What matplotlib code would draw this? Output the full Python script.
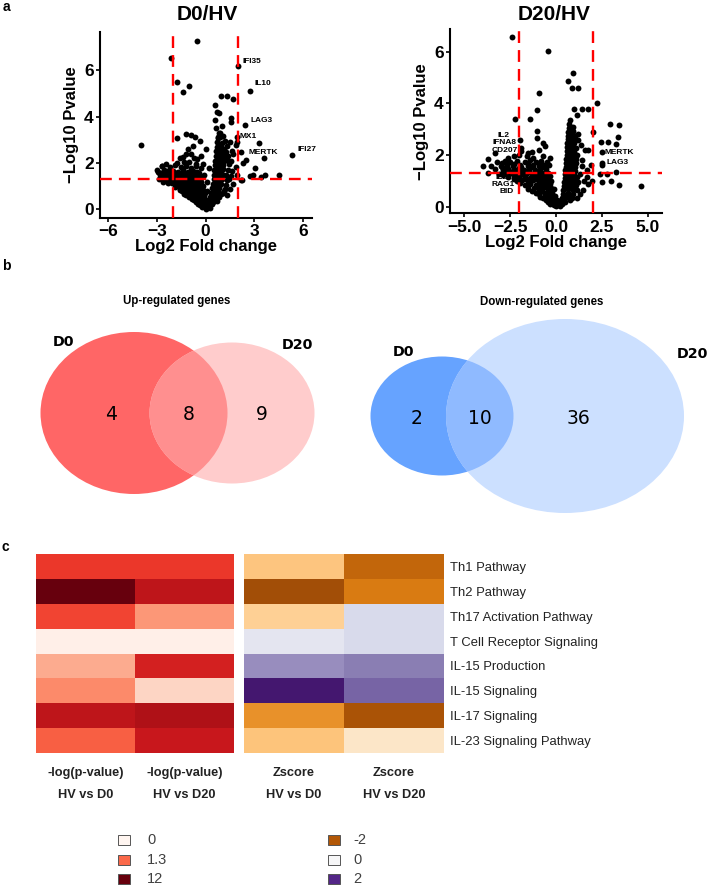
import numpy as np
import matplotlib
matplotlib.use("Agg")
import matplotlib.pyplot as plt
from matplotlib.patches import Ellipse, Rectangle
from matplotlib.colors import TwoSlopeNorm, Normalize

plt.rcParams["font.family"] = ["Liberation Sans", "DejaVu Sans"]

# ---------------------------------------------------------------- data
# Volcano D0/HV : (log2 fold change, -log10 p)
d0_points = np.array([
    (-0.54, 7.27), (-2.12, 6.50), (1.98, 6.19), (-1.78, 5.47), (-1.02, 5.33), (-1.40, 5.07), (2.74, 5.11),
    (0.93, 4.88), (1.35, 4.88), (1.68, 4.77), (0.59, 4.48), (0.69, 4.21), (0.86, 4.14), (0.59, 3.85),
    (1.56, 3.92), (1.58, 3.78), (2.43, 3.63), (0.63, 3.52), (1.00, 3.59), (-3.99, 2.77), (-1.78, 3.09),
    (-1.20, 3.24), (-0.90, 3.21), (-0.65, 3.13), (-0.34, 2.94), (1.96, 3.10), (1.96, 2.90), (1.90, 2.77),
    (3.31, 2.88), (2.16, 2.48), (5.30, 2.34), (3.60, 2.20), (2.47, 2.12), (3.06, 1.77), (2.33, 2.00),
    (2.94, 1.50), (2.74, 1.44), (3.68, 1.50), (4.52, 1.50), (3.39, 1.41), (2.27, 1.28), (2.17, 1.26),
    (1.92, 1.50), (1.86, 1.82), (1.45, 1.97), (1.55, 1.43), (1.14, 0.78),
    (-3.00, 1.69), (-2.69, 1.88), (-2.39, 1.67), (-2.43, 1.41), (-1.76, 2.00), (-1.38, 2.26), (-1.21, 2.37),
    (-0.90, 2.40), (-1.06, 2.60), (-0.75, 2.75), (-0.59, 1.97), (-0.54, 2.19), (-2.28, 1.15),
    (0.89, 3.29), (1.10, 3.14), (0.79, 3.07),
    (-2.70, 1.88), (-2.20, 1.83), (-1.90, 1.90), (-1.50, 1.82), (-1.20, 1.87), (-0.90, 1.80), (-0.60, 1.86), (-0.30, 1.79),
    (-2.90, 1.62), (-2.55, 1.68), (-2.25, 1.60), (-2.00, 1.66), (-1.70, 1.63), (-1.40, 1.70), (-1.10, 1.61), (-0.80, 1.67), (-0.50, 1.62),
    (-2.80, 1.47), (-2.60, 1.40), (-2.35, 1.49), (-2.10, 1.43), (-1.85, 1.46), (-1.60, 1.41), (-1.35, 1.48), (-1.10, 1.44),
    (-0.85, 1.47), (-0.60, 1.42), (-0.35, 1.46), (-2.85, 1.30), (-2.60, 1.20),
    (-2.55, 1.27), (-2.20, 1.32), (-1.95, 1.28), (-1.70, 1.33), (-1.45, 1.26), (-1.20, 1.31), (-0.95, 1.29), (-0.70, 1.33), (-0.45, 1.27),
    (-2.05, 1.13), (-1.75, 1.17), (-1.50, 1.12), (-1.25, 1.16), (-1.00, 1.13), (-0.75, 1.18), (-0.50, 1.12), (-0.30, 1.16),
    (-1.90, 0.98), (-1.65, 1.02), (-1.40, 0.97), (-1.15, 1.01), (-0.90, 0.99), (-0.65, 1.03), (-0.40, 0.97),
    (-1.60, 0.83), (-1.35, 0.87), (-1.10, 0.84), (-0.85, 0.86), (-0.60, 0.82), (-0.35, 0.87), (-0.15, 0.83),
    (-1.30, 0.68), (-1.05, 0.72), (-0.80, 0.69), (-0.55, 0.71), (-0.30, 0.67),
    (-1.00, 0.53), (-0.75, 0.56), (-0.50, 0.54), (-0.30, 0.52), (-0.10, 0.56),
    (-0.70, 0.39), (-0.50, 0.42), (-0.30, 0.38), (-0.15, 0.41),
    (-0.45, 0.24), (-0.25, 0.27), (-0.05, 0.23), (0.15, 0.26),
    (-0.20, 0.11), (0.00, 0.08), (0.20, 0.12), (0.05, 0.02),
    (-2.75, 1.55), (-2.45, 1.57), (-2.15, 1.53), (-1.80, 1.56), (-1.55, 1.54), (-1.25, 1.57), (-0.95, 1.55),
    (-0.65, 1.53), (-0.40, 1.58), (-2.40, 1.37), (-2.05, 1.22), (-1.80, 1.38), (-1.55, 1.21), (-1.30, 1.38),
    (-1.05, 1.21), (-0.80, 1.38), (-0.55, 1.21), (-0.25, 1.35), (-1.80, 1.07), (-1.55, 0.90), (-1.25, 0.92),
    (-1.00, 0.77), (-0.75, 0.92), (-0.50, 0.77), (-0.25, 0.95), (-0.05, 0.70), (-1.45, 0.78), (-1.20, 0.60),
    (-0.90, 0.62), (-0.65, 0.47), (-0.40, 0.62), (-0.20, 0.47), (0.00, 0.40), (-0.85, 0.45), (-0.60, 0.30),
    (-0.35, 0.18), (-0.10, 0.30), (0.10, 0.18), (0.25, 0.05), (-0.05, 0.13),
    (0.30, 0.19), (0.25, 0.36), (0.45, 0.33), (0.70, 0.37), (0.30, 0.52), (0.55, 0.48), (0.85, 0.53),
    (0.35, 0.70), (0.60, 0.72), (0.95, 0.68), (0.40, 0.91), (0.65, 0.88), (0.85, 0.93), (1.20, 0.89),
    (0.45, 1.10), (0.70, 1.13), (0.95, 1.08), (0.50, 1.30), (0.75, 1.28), (1.00, 1.33), (1.30, 1.27),
    (0.50, 1.50), (0.80, 1.52), (1.05, 1.48), (0.55, 1.70), (0.80, 1.68), (1.10, 1.72), (1.40, 1.69),
    (0.60, 1.90), (0.85, 1.88), (1.10, 1.93), (0.60, 2.10), (0.85, 2.12), (1.15, 2.08), (1.35, 2.13),
    (0.65, 2.30), (0.90, 2.28), (1.20, 2.33), (0.65, 2.50), (0.90, 2.52), (1.25, 2.48), (1.60, 2.53),
    (0.70, 2.70), (0.95, 2.68), (1.30, 2.72), (0.70, 2.90), (1.00, 2.88), (1.50, 2.92), (0.75, 3.10), (0.80, 3.30),
    (0.40, 0.25), (0.55, 0.60), (0.75, 0.60), (0.50, 0.80), (0.75, 0.78), (0.60, 1.00), (0.85, 1.00),
    (0.60, 1.20), (0.85, 1.20), (0.65, 1.40), (0.95, 1.40), (0.65, 1.60), (0.95, 1.60), (0.70, 1.80),
    (0.95, 1.80), (0.70, 2.00), (1.00, 2.00), (0.75, 2.20), (1.05, 2.20), (0.75, 2.40), (1.05, 2.40),
    (0.80, 2.60), (0.80, 2.80), (1.15, 2.60), (1.20, 2.95), (0.90, 3.10), (1.40, 2.30), (1.55, 2.10),
    (1.70, 2.40), (1.25, 1.50), (1.45, 1.30), (1.60, 1.65), (1.05, 0.70), (1.25, 1.05),
    (-1.00, 2.05), (-0.70, 2.20), (-0.30, 2.30), (-1.30, 2.05), (-2.45, 1.95), (-0.10, 1.50), (0.10, 1.20),
    (-0.15, 1.00), (0.10, 0.80), (0.20, 1.80), (1.30, 0.60), (1.50, 0.90), (1.70, 1.10), (-1.60, 2.20),
    (-0.15, 1.95), (0.05, 2.60),
])
d0_genes = ["IFI35", "IL10", "LAG3", "MX1", "MERTK", "IFI27"]
d0_gene_x = [2.27, 3.00, 2.74, 2.08, 2.64, 5.67]
d0_gene_y = [6.39, 5.43, 3.82, 3.13, 2.44, 2.56]

# Volcano D20/HV
d20_points = np.array([
    (-2.42, 6.58), (-0.45, 6.03), (0.95, 5.19), (0.67, 4.88), (0.85, 4.58), (1.18, 4.58), (2.22, 4.00),
    (-0.93, 4.39), (-1.02, 3.74), (-1.42, 3.38), (-2.24, 3.40), (1.00, 3.80), (1.40, 3.78), (1.76, 3.78),
    (1.13, 3.55), (2.95, 3.20), (3.44, 3.16), (3.40, 2.68), (2.04, 2.90), (2.45, 2.52), (2.85, 2.49),
    (3.25, 2.43), (2.49, 2.13), (2.49, 1.70), (2.49, 1.60), (3.27, 1.35), (2.40, 1.26), (2.76, 1.26),
    (2.49, 0.97), (3.00, 1.00), (3.44, 0.84), (4.62, 0.81), (1.76, 2.19), (-1.02, 2.94), (-1.05, 2.65),
    (-0.73, 2.48), (-1.96, 2.58), (-1.91, 2.28), (-1.91, 2.15), (-3.33, 2.06), (-3.73, 1.83), (-3.96, 1.57),
    (-3.55, 1.59), (-3.69, 1.32), (-3.20, 1.74), (-2.96, 1.52), (-2.87, 1.35), (-1.51, 2.06), (1.67, 1.14),
    (1.76, 0.88), (1.95, 1.00), (1.13, 0.32), (1.49, 0.65),
    (-2.80, 1.77), (-2.50, 1.73), (-2.10, 1.78), (-1.70, 1.74), (-1.40, 1.79), (-1.10, 1.72), (-0.80, 1.77), (-0.50, 1.73),
    (-3.00, 1.58), (-2.65, 1.62), (-2.35, 1.57), (-1.95, 1.63), (-1.55, 1.59), (-1.25, 1.61), (-0.95, 1.58), (-0.65, 1.62),
    (-3.30, 1.46), (-2.90, 1.43), (-2.60, 1.47), (-2.30, 1.44), (-2.00, 1.48), (-1.75, 1.42), (-1.45, 1.46),
    (-1.15, 1.43), (-0.85, 1.47), (-0.55, 1.44),
    (-3.10, 1.28), (-2.75, 1.32), (-2.45, 1.29), (-2.15, 1.33), (-1.85, 1.27), (-1.60, 1.31), (-1.30, 1.28),
    (-1.00, 1.32), (-0.70, 1.29), (-0.45, 1.31),
    (-2.60, 1.14), (-2.30, 1.17), (-2.00, 1.13), (-1.70, 1.16), (-1.40, 1.12), (-1.10, 1.17), (-0.80, 1.14), (-0.50, 1.16),
    (-2.10, 0.98), (-1.85, 1.02), (-1.55, 0.99), (-1.25, 1.03), (-0.95, 0.98), (-0.65, 1.01), (-0.40, 0.99),
    (-1.70, 0.84), (-1.40, 0.87), (-1.10, 0.83), (-0.80, 0.86), (-0.55, 0.84), (-0.30, 0.87),
    (-1.50, 0.69), (-1.20, 0.72), (-0.95, 0.68), (-0.70, 0.71), (-0.45, 0.69), (-0.25, 0.72),
    (-1.10, 0.54), (-0.85, 0.57), (-0.60, 0.53), (-0.40, 0.56), (-0.20, 0.54),
    (-0.85, 0.39), (-0.60, 0.42), (-0.40, 0.38), (-0.20, 0.41),
    (-0.55, 0.24), (-0.35, 0.27), (-0.15, 0.23), (0.05, 0.26),
    (-0.30, 0.11), (-0.10, 0.08), (0.10, 0.12), (0.00, 0.02), (0.20, 0.04),
    (-2.95, 1.70), (-2.65, 1.52), (-2.30, 1.66), (-1.90, 1.53), (-1.55, 1.70), (-1.25, 1.52), (-0.95, 1.68),
    (-0.70, 1.52), (-0.40, 1.60), (-2.90, 1.22), (-2.55, 1.38), (-2.20, 1.22), (-1.95, 1.38), (-1.70, 1.22),
    (-1.45, 1.37), (-1.20, 1.22), (-0.90, 1.38), (-0.60, 1.22), (-0.30, 1.20), (-2.30, 1.05), (-1.95, 0.90),
    (-1.65, 1.06), (-1.40, 0.93), (-1.10, 1.06), (-0.80, 0.93), (-0.55, 1.06), (-0.25, 1.00), (-1.55, 0.78),
    (-1.30, 0.62), (-1.05, 0.76), (-0.80, 0.62), (-0.60, 0.78), (-0.35, 0.62), (-0.10, 0.70), (-0.95, 0.47),
    (-0.70, 0.33), (-0.50, 0.47), (-0.30, 0.32), (-0.05, 0.40), (-0.45, 0.16), (-0.20, 0.17), (0.15, 0.22),
    (-2.00, 2.00), (-1.60, 1.95), (-1.30, 2.10), (-0.90, 2.20), (-0.70, 1.95), (-0.35, 1.90), (-0.60, 2.35),
    (-1.25, 1.90), (-2.30, 1.95), (-2.60, 1.90),
    (0.30, 0.20), (0.50, 0.18), (0.35, 0.35), (0.60, 0.37), (0.85, 0.33), (0.40, 0.50), (0.65, 0.52), (0.90, 0.48),
    (0.40, 0.65), (0.65, 0.67), (0.90, 0.63), (1.15, 0.66), (0.45, 0.80), (0.70, 0.82), (0.95, 0.78),
    (0.45, 0.95), (0.70, 0.97), (0.95, 0.93), (1.20, 0.96), (0.50, 1.10), (0.75, 1.12), (1.00, 1.08),
    (0.50, 1.25), (0.75, 1.27), (1.00, 1.23), (1.30, 1.26), (0.50, 1.40), (0.75, 1.42), (1.05, 1.38),
    (0.55, 1.55), (0.80, 1.57), (1.05, 1.53), (1.40, 1.56), (0.55, 1.70), (0.80, 1.72), (1.10, 1.68),
    (0.55, 1.85), (0.80, 1.87), (1.10, 1.83), (0.60, 2.00), (0.85, 2.02), (1.15, 1.98),
    (0.60, 2.15), (0.85, 2.17), (0.60, 2.30), (0.85, 2.32), (1.10, 2.28), (0.60, 2.45), (0.85, 2.47),
    (0.65, 2.60), (0.90, 2.62), (1.20, 2.58), (0.65, 2.75), (0.90, 2.77), (0.65, 2.90), (0.90, 2.92),
    (0.70, 3.05), (0.95, 3.07), (0.70, 3.20), (0.75, 3.35),
    (0.35, 0.10), (0.45, 0.27), (0.75, 0.27), (0.55, 0.44), (0.80, 0.44), (0.55, 0.73), (0.80, 0.73),
    (1.05, 0.72), (0.60, 0.88), (0.85, 0.88), (1.10, 0.85), (0.60, 1.03), (0.90, 1.03), (0.60, 1.18),
    (0.90, 1.18), (1.15, 1.15), (0.65, 1.33), (0.90, 1.33), (0.65, 1.48), (0.90, 1.48), (0.65, 1.63),
    (0.95, 1.63), (0.70, 1.78), (0.95, 1.78), (0.70, 1.93), (1.00, 1.93), (0.72, 2.08), (1.00, 2.10),
    (0.72, 2.23), (0.75, 2.38), (0.75, 2.53), (1.00, 2.45), (0.78, 2.68), (0.80, 2.83), (0.82, 2.98), (1.05, 2.72),
    (1.40, 1.80), (1.60, 2.20), (1.50, 1.00), (1.30, 0.50), (1.70, 1.40), (1.90, 1.60), (1.20, 2.80), (1.35, 2.40),
])
d20_genes_down = ["IL2", "IFNA8", "CD207", "IL21", "RAG1", "BID"]
d20_down_x = [-2.85, -2.80, -2.78, -2.82, -2.90, -2.67]
d20_down_y = [2.77, 2.48, 2.19, 1.14, 0.86, 0.58]
d20_genes_up = ["MERTK", "LAG3"]
d20_up_x = [2.67, 2.76]
d20_up_y = [2.09, 1.70]

# Venn counts: [only D0, shared, only D20]
up_counts = [4, 8, 9]
down_counts = [2, 10, 36]

# Canonical pathways heatmap
pathways = ["Th1 Pathway", "Th2 Pathway", "Th17 Activation Pathway", "T Cell Receptor Signaling",
            "IL-15 Production", "IL-15 Signaling", "IL-17 Signaling", "IL-23 Signaling Pathway"]
logp_d0 = [4.3, 12.0, 3.4, 0.1, 0.78, 1.04, 7.5, 1.94]
logp_d20 = [4.3, 7.5, 0.94, 0.1, 6.0, 0.42, 8.6, 6.9]
z_d0 = [-0.83, -2.15, -0.70, 0.30, 1.25, 2.20, -1.35, -0.85]
z_d20 = [-1.83, -1.57, 0.50, 0.50, 1.40, 1.59, -2.08, -0.36]
logp_cols = ["-log(p-value)\nHV vs D0", "-log(p-value)\nHV vs D20"]
z_cols = ["Zscore\nHV vs D0", "Zscore\nHV vs D20"]
logp_legend = [0, 1.3, 12]
z_legend = [-2, 0, 2]

# ---------------------------------------------------------------- figure
W, H = 709, 886
fig = plt.figure(figsize=(W / 100, H / 100), dpi=100)


def fx(px):
    return px / W


def fy(py):
    return 1 - py / H


def volcano(rect, pts, xlim, ylim, xticks, xticklabels, title, title_xy, ylab_x, xlab_y):
    ax = fig.add_axes(rect)
    ax.scatter(pts[:, 0], pts[:, 1], s=18, c="black", linewidths=0, zorder=2)
    dash = dict(color="#FF0000", lw=1.7, ls=(0, (5, 3)), zorder=3)
    ax.axhline(-np.log10(0.05), **dash)
    ax.axvline(-2, **dash)
    ax.axvline(2, **dash)
    ax.set_xlim(*xlim)
    ax.set_ylim(*ylim)
    ax.set_xticks(xticks)
    ax.set_xticklabels(xticklabels)
    ax.set_yticks([0, 2, 4, 6])
    for s in ("top", "right"):
        ax.spines[s].set_visible(False)
    for s in ("left", "bottom"):
        ax.spines[s].set_linewidth(1.5)
    ax.tick_params(length=3, width=1.2, labelsize=12.5, pad=1.5)
    for lab in ax.get_xticklabels() + ax.get_yticklabels():
        lab.set_fontweight("bold")
    ax.set_xlabel("Log2 Fold change", fontsize=12, fontweight="bold")
    ax.xaxis.set_label_coords(0.5, xlab_y)
    ax.set_ylabel("\u2212Log10 Pvalue", fontsize=12, fontweight="bold")
    ax.yaxis.set_label_coords(ylab_x, 0.5)
    fig.text(fx(title_xy[0]), fy(title_xy[1]), title, fontsize=15, fontweight="bold",
             ha="center", va="center")
    return ax


ax1 = volcano([fx(100), fy(218), 212 / W, 186 / H], d0_points, (-6.49, 6.55), (-0.37, 7.64),
              [-6, -3, 0, 3, 6], ["\u22126", "\u22123", "0", "3", "6"], "D0/HV", (207, 15), -0.10, -0.115)
for g, x, y in zip(d0_genes, d0_gene_x, d0_gene_y):
    ax1.text(x, y, g, fontsize=6, fontweight="bold", ha="left", va="center", zorder=4)

ax2 = volcano([fx(450), fy(213.3), 212 / W, 184 / H], d20_points, (-5.78, 5.78), (-0.26, 6.87),
              [-5, -2.5, 0, 2.5, 5], ["\u22125.0", "\u22122.5", "0.0", "2.5", "5.0"], "D20/HV", (554, 14),
              -0.10, -0.12)
for g, x, y in zip(d20_genes_down, d20_down_x, d20_down_y):
    ax2.text(x, y, g, fontsize=6, fontweight="bold", ha="center", va="center", zorder=4)
for g, x, y in zip(d20_genes_up, d20_up_x, d20_up_y):
    ax2.text(x, y, g, fontsize=6, fontweight="bold", ha="left", va="center", zorder=4)

# panel letters
for letter, (px, py) in zip("abc", [(6, 7), (6, 266), (5, 547)]):
    fig.text(fx(px), fy(py), letter, fontsize=10, fontweight="bold", ha="center", va="center")

# ---------------------------------------------------------------- venn diagrams
axv = fig.add_axes([0, 0, 1, 1], zorder=-1)
axv.set_xlim(0, W)
axv.set_ylim(H, 0)
axv.axis("off")


def venn(c1, s1, col1, c2, s2, col2, col12, counts, text_xy, lab1_xy, lab2_xy, title, title_xy):
    e1 = Ellipse(c1, s1[0], s1[1], color=col1, lw=0)
    e2 = Ellipse(c2, s2[0], s2[1], color=col2, lw=0)
    axv.add_patch(e1)
    axv.add_patch(e2)
    e3 = Ellipse(c2, s2[0], s2[1], color=col12, lw=0)
    axv.add_patch(e3)
    e3.set_clip_path(e1)
    for n, (tx, ty) in zip(counts, text_xy):
        axv.text(tx, ty, str(n), fontsize=13.5, family="DejaVu Sans", ha="center", va="center")
    axv.text(*lab1_xy, "D0", fontsize=10.3, fontweight="bold", family="DejaVu Sans", ha="center", va="center")
    axv.text(*lab2_xy, "D20", fontsize=10.3, fontweight="bold", family="DejaVu Sans", ha="center", va="center")
    axv.text(*title_xy, title, fontsize=8.3, fontweight="bold", ha="center", va="center")


venn((134, 413), (187, 162), "#FF6666", (232, 413), (165, 141), "#FFCCCC", "#FF8F8F", up_counts,
     [(111, 414), (189, 414), (262, 414)], (63, 342), (297, 345), "Up-regulated genes", (177, 301))
venn((442, 416), (143, 119), "#66A3FF", (565, 416), (238, 194), "#CCE0FF", "#8FBAFF", down_counts,
     [(417, 418), (480, 418), (578, 418)], (403, 352), (692, 354), "Down-regulated genes", (542, 302))

# ---------------------------------------------------------------- heatmaps
norm_p = TwoSlopeNorm(vmin=0, vcenter=1.3, vmax=12)
norm_z = Normalize(vmin=-2.5, vmax=2.5)
cmap_p = plt.get_cmap("Reds")
cmap_z = plt.get_cmap("PuOr")

axl = fig.add_axes([fx(36), fy(753), 198 / W, 199 / H])
axl.pcolormesh(np.column_stack([logp_d0, logp_d20]), cmap=cmap_p, norm=norm_p)
axr = fig.add_axes([fx(244), fy(753), 200 / W, 199 / H])
axr.pcolormesh(np.column_stack([z_d0, z_d20]), cmap=cmap_z, norm=norm_z)
for ax in (axl, axr):
    ax.set_xlim(0, 2)
    ax.set_ylim(len(pathways), 0)
    for s in ax.spines.values():
        s.set_visible(False)
    ax.set_xticks([])
axl.set_yticks([])
axr.yaxis.tick_right()
axr.set_yticks(np.arange(len(pathways)) + 0.5)
axr.set_yticklabels(pathways, fontsize=9.4, color="#222222")
axr.tick_params(axis="y", length=0, pad=4.3)

for ax, cols in ((axl, logp_cols), (axr, z_cols)):
    pos = ax.get_position()
    for i, lab in enumerate(cols):
        cx = pos.x0 + (i + 0.5) / 2 * pos.width
        for j, line in enumerate(lab.split("\n")):
            fig.text(cx, fy(773 + 22 * j), line, fontsize=9.2, fontweight="bold", color="#222222",
                     ha="center", va="center")

# legends
rows_y = [840, 859.5, 879]
for vals, cmap, norm, sq_x, tx in ((logp_legend, cmap_p, norm_p, 118, 147),
                                   (z_legend, cmap_z, norm_z, 328, 353)):
    for v, yy in zip(vals, rows_y):
        fig.add_artist(Rectangle((fx(sq_x), fy(yy + 5)), 12 / W, 10 / H, transform=fig.transFigure,
                                 facecolor=cmap(norm(v)), edgecolor="#555555", lw=0.7))
        fig.text(fx(tx), fy(yy), f"{v:g}", fontsize=10.5, color="#404040", ha="left", va="center")

fig.savefig("out.png", dpi=100)
